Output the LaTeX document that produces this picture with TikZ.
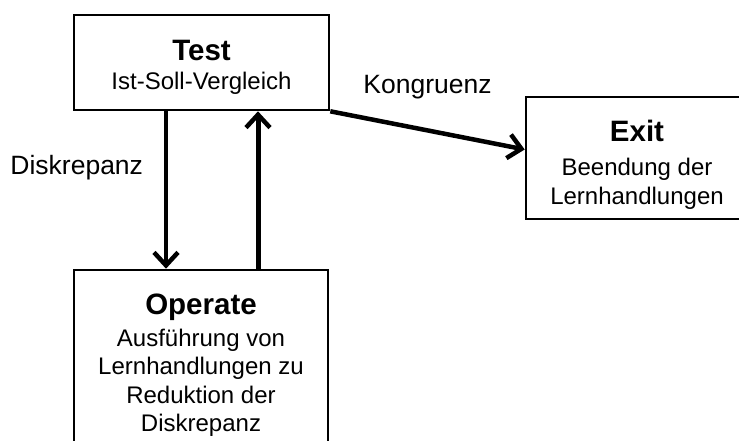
\documentclass[tikz,border=0pt]{standalone}
\usepackage{fontspec}
\setmainfont{Liberation Sans}
\usetikzlibrary{arrows.meta}
\newcommand{\titlefont}{\fontsize{29.5}{29.5}\bfseries}
\newcommand{\bodyfont}{\fontsize{24}{28.3}\selectfont}
\newcommand{\labelfont}{\fontsize{26.5}{30}\selectfont}
\tikzset{
  box/.style={draw, line width=2.6pt, inner sep=0pt},
  boxtext/.style={align=center, inner sep=0pt, font=\bodyfont},
  arr/.style={line width=4.5pt, -{Straight Barb[length=13pt,width=24pt,line width=4.5pt]}},
  lbl/.style={inner sep=0pt, font=\labelfont}
}
\begin{document}
\begin{tikzpicture}[x=1pt,y=-1pt]
  \useasboundingbox (0,0) rectangle (739,441);
  \clip (0,0) rectangle (739,441);

  % the three TOTE boxes
  \node[box, minimum width=255pt, minimum height=95pt] (test) at (201.5,62.5) {};
  \node[box, minimum width=222pt, minimum height=122pt] (exit) at (637,158) {};
  \node[box, minimum width=254pt, minimum height=178pt] (operate) at (201,359) {};

  % their captions
  \node[boxtext, yshift=-5pt] (testtext) at (test.center)
    {{\titlefont Test}\\[1pt]Ist-Soll-Vergleich};
  \node[boxtext, yshift=-6.8pt] (exittext) at (exit.center)
    {{\titlefont Exit}\\[6pt]Beendung der\\Lernhandlungen};
  \node[boxtext, yshift=-6pt] (operatetext) at (operate.center)
    {{\titlefont Operate}\\[4pt]Ausführung von\\Lernhandlungen zu\\Reduktion der\\Diskrepanz};

  % test -> operate (discrepancy)
  \draw[arr, line width=4pt] ([xshift=-35.5pt]test.south) -- ([xshift=-35pt]operate.north)
    node[lbl, pos=0.36, left=21pt] {Diskrepanz};
  % operate -> test
  \draw[arr, line width=5pt] ([xshift=57pt]operate.north) -- ([xshift=56.5pt]test.south);
  % test -> exit (congruence)
  \draw[arr] (test.south east) -- ([yshift=8.5pt]exit.west)
    node[lbl, midway, yshift=43.5pt] {Kongruenz};
\end{tikzpicture}
\end{document}
